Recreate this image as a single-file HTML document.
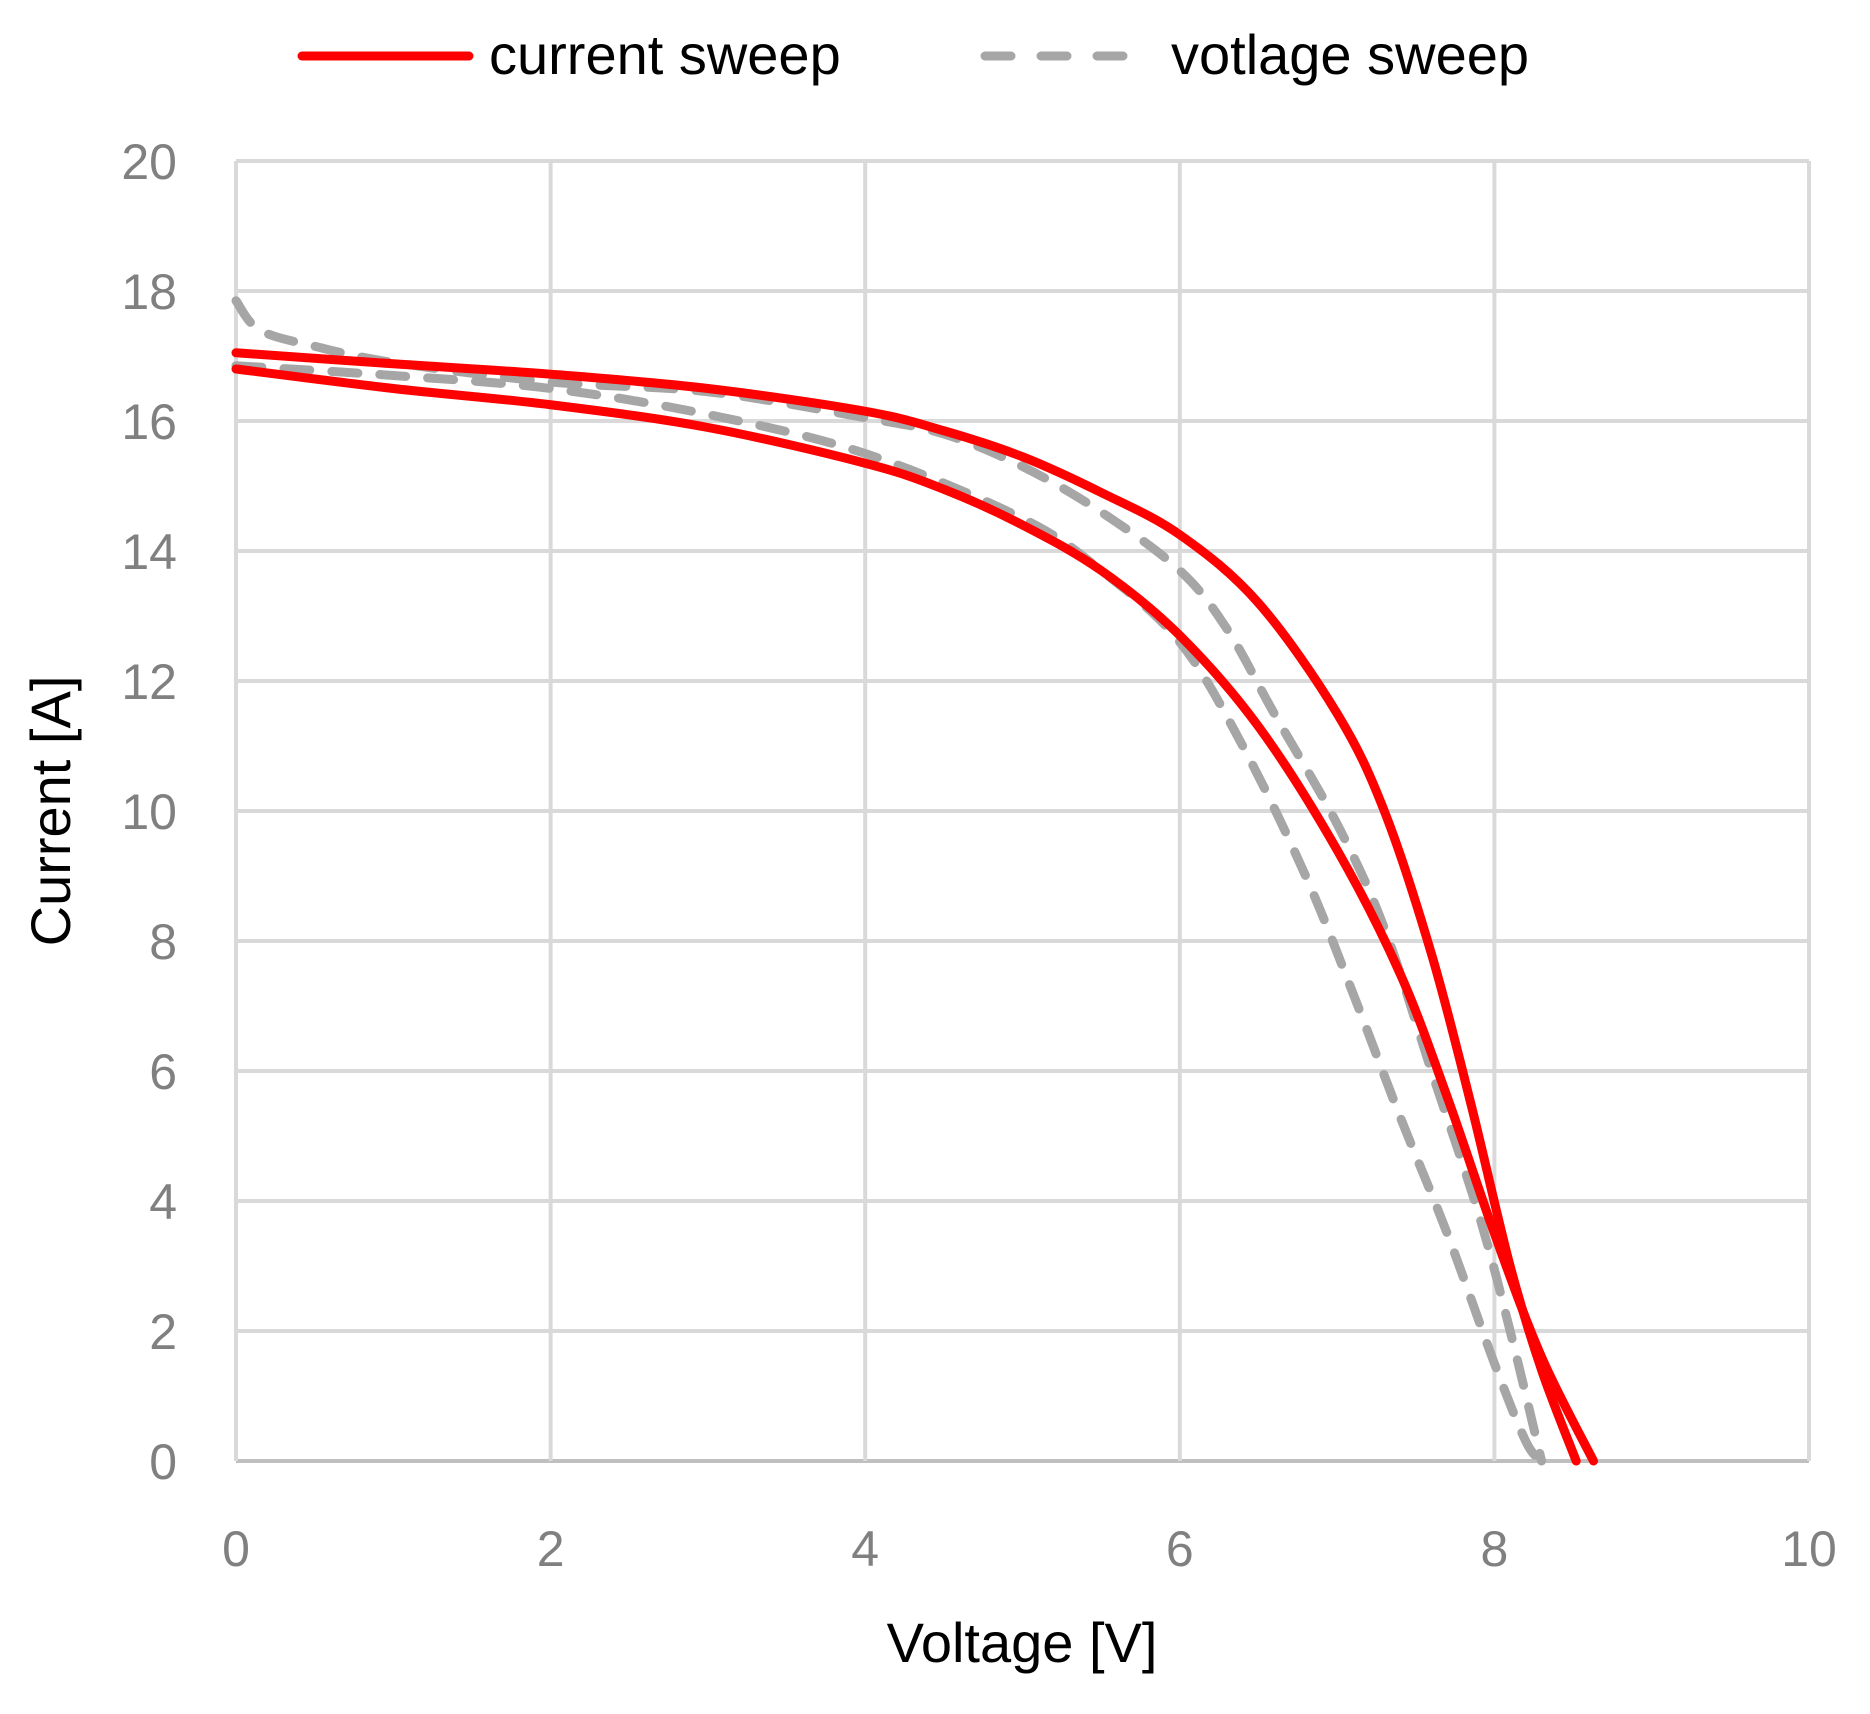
<!DOCTYPE html>
<html><head><meta charset="utf-8"><style>
html,body{margin:0;padding:0;background:#fff;}
svg{display:block;font-family:"Liberation Sans",sans-serif;}
</style></head><body>
<svg id="s" width="1870" height="1714" viewBox="0 0 1870 1714" xmlns="http://www.w3.org/2000/svg">
<g id="grid" stroke="#d9d9d9" stroke-width="4"></g>
<g id="lab" fill="#808080" font-size="50"></g>
<g id="series" fill="none" stroke-linecap="round" stroke-linejoin="round"></g>
<line x1="302" y1="56" x2="469" y2="56" stroke="#ff0000" stroke-width="9" stroke-linecap="round"/>
<text x="489" y="74" font-size="56" fill="#000">current sweep</text>
<line x1="985" y1="56" x2="1152" y2="56" stroke="#a6a6a6" stroke-width="9" stroke-dasharray="26 30" stroke-linecap="round"/>
<text x="1171" y="74" font-size="56" fill="#000">votlage sweep</text>
<text x="1022" y="1662" font-size="56" fill="#000" text-anchor="middle">Voltage [V]</text>
<text transform="translate(70,811) rotate(-90)" font-size="56" fill="#000" text-anchor="middle">Current [A]</text>
</svg>
<script>
const X0=236,X1=1809,Y0=1461,Y1=161;
const sx=v=>X0+(X1-X0)*v/10, sy=v=>Y0-(Y0-Y1)*v/20;
const ns="http://www.w3.org/2000/svg";
function el(p,t,a,txt){const e=document.createElementNS(ns,t);for(const k in a)e.setAttribute(k,a[k]);if(txt!=null)e.textContent=txt;document.getElementById(p).appendChild(e);}
for(let i=0;i<=10;i++){el('grid','line',{x1:X0,x2:X1,y1:sy(i*2),y2:sy(i*2),stroke:i==0?'#bfbfbf':'#d9d9d9'});
 el('lab','text',{x:177,y:sy(i*2)+18,'text-anchor':'end'},String(i*2));}
for(let i=0;i<=5;i++){el('grid','line',{x1:sx(i*2),x2:sx(i*2),y1:Y1,y2:Y0});
 el('lab','text',{x:sx(i*2),y:1566,'text-anchor':'middle'},String(i*2));}
function path(pts){const P=pts.map(p=>[sx(p[0]),sy(p[1])]);let d='M'+P[0];
 for(let i=0;i<P.length-1;i++){const p0=P[i-1]||P[i],p1=P[i],p2=P[i+1],p3=P[i+2]||p2;
 const c1=[p1[0]+(p2[0]-p0[0])/6,p1[1]+(p2[1]-p0[1])/6],c2=[p2[0]-(p3[0]-p1[0])/6,p2[1]-(p3[1]-p1[1])/6];
 d+=' C'+c1+' '+c2+' '+p2;}return d;}
const red=[[[0,17.05],[1,16.88],[2,16.72],[3,16.5],[4,16.15],[4.5,15.85],[5,15.45],[5.5,14.9],[6,14.25],[6.5,13.2],[7,11.5],[7.3,10.0],[7.6,7.8],[7.85,5.5],[8.1,3.0],[8.3,1.4],[8.52,0]],
[[0,16.8],[1,16.5],[2,16.25],[3,15.9],[4,15.35],[4.5,14.95],[5,14.4],[5.5,13.7],[6,12.7],[6.5,11.3],[7,9.4],[7.4,7.5],[7.7,5.6],[8,3.5],[8.3,1.6],[8.63,0]]];
const gray=[[[0,17.85],[0.15,17.4],[0.5,17.15],[1,16.9],[2,16.6],[3,16.45],[4,16.05],[4.5,15.8],[5,15.3],[5.5,14.6],[6,13.7],[6.3,12.8],[6.6,11.5],[7,9.8],[7.3,8.2],[7.6,6.0],[7.9,3.8],[8.1,2.0],[8.3,0]],
[[0,16.85],[1,16.7],[2,16.5],[3,16.1],[4,15.5],[5,14.5],[5.5,13.7],[6,12.6],[6.4,11.0],[6.8,9.0],[7.1,7.2],[7.4,5.3],[7.7,3.5],[8,1.5],[8.2,0.3],[8.3,0]]];
gray.forEach(g=>el('series','path',{d:path(g),stroke:'#a6a6a6','stroke-width':9,'stroke-dasharray':'26 22'}));
red.forEach(g=>el('series','path',{d:path(g),stroke:'#ff0000','stroke-width':9}));
</script>
</body></html>
